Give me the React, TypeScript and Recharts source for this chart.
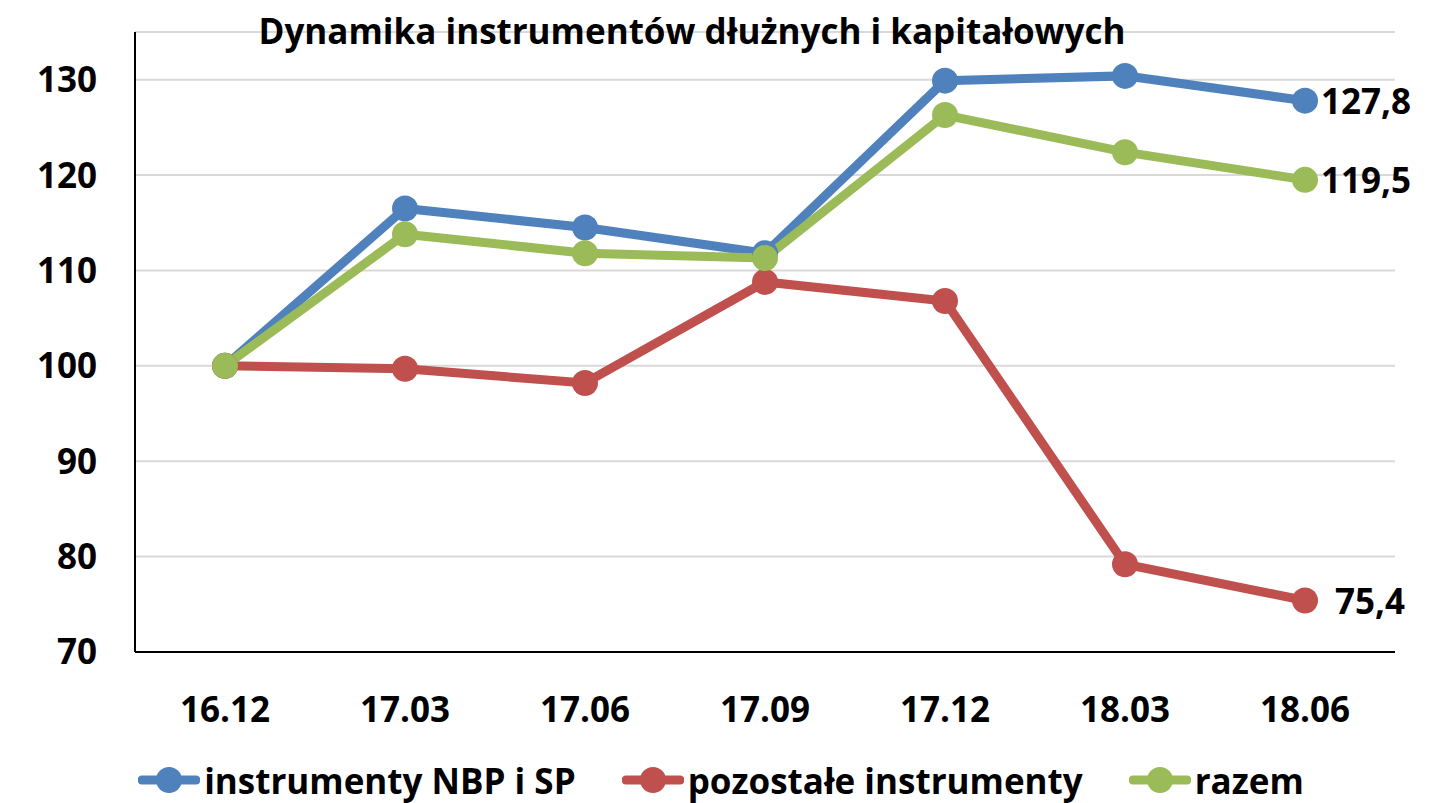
import { CartesianGrid, LabelList, Legend, Line, LineChart, XAxis, YAxis } from "recharts";

const periods = ["16.12", "17.03", "17.06", "17.09", "17.12", "18.03", "18.06"];
const nbpSp = [100, 116.5, 114.5, 111.8, 129.9, 130.4, 127.8];
const pozostale = [100, 99.7, 98.2, 108.8, 106.8, 79.2, 75.4];
const razem = [100, 113.8, 111.8, 111.3, 126.3, 122.4, 119.5];
const yTicks = [70, 80, 90, 100, 110, 120, 130];

const series = [
  { key: "nbpSp", name: "instrumenty NBP i SP", color: "#4F81BD", labelGap: 16 },
  { key: "pozostale", name: "pozostałe instrumenty", color: "#C0504D", labelGap: 30 },
  { key: "razem", name: "razem", color: "#9BBB59", labelGap: 16 },
];

const data = periods.map((p, i) => ({
  period: p,
  nbpSp: nbpSp[i],
  pozostale: pozostale[i],
  razem: razem[i],
}));

const FONT = "'Open Sans', sans-serif";
const tickStyle = { fontFamily: FONT, fontSize: 35, fontWeight: 700, fill: "#000" };

function LegendContent() {
  return (
    <div
      style={{
        display: "flex",
        justifyContent: "center",
        alignItems: "center",
        gap: 46,
        height: 46,
        fontFamily: FONT,
        fontSize: 35,
        fontWeight: 700,
        color: "#000",
      }}
    >
      {series.map((s) => (
        <div key={s.key} style={{ display: "flex", alignItems: "center" }}>
          <svg width={62} height={30} style={{ marginRight: 4 }}>
            <line x1={4} y1={15} x2={58} y2={15} stroke={s.color} strokeWidth={9} strokeLinecap="round" />
            <circle cx={31} cy={15} r={13} fill={s.color} />
          </svg>
          <span>{s.name}</span>
        </div>
      ))}
    </div>
  );
}

export default function App() {
  return (
    <div style={{ position: "absolute", left: 0, top: 0, background: "#fff" }}>
      <LineChart width={1436} height={803} data={data} margin={{ top: 32, right: 41, left: 0, bottom: 0 }}>
        <CartesianGrid vertical={false} stroke="#d9d9d9" strokeWidth={2} />
        <XAxis
          dataKey="period"
          padding={{ left: 90, right: 90 }}
          tickLine={false}
          tickSize={0}
          tickMargin={45}
          height={105}
          axisLine={{ stroke: "#000", strokeWidth: 2 }}
          tick={tickStyle}
        />
        <YAxis
          domain={[70, 135]}
          ticks={yTicks}
          width={135}
          tickLine={false}
          tickSize={0}
          tickMargin={38}
          axisLine={{ stroke: "#000", strokeWidth: 2 }}
          tick={tickStyle}
        />
        <Legend
          verticalAlign="bottom"
          wrapperStyle={{ left: 3, width: 1436 }}
          content={() => <LegendContent />}
        />
        {series.map((s) => (
          <Line
            key={s.key}
            dataKey={s.key}
            name={s.name}
            stroke={s.color}
            strokeWidth={9}
            dot={{ r: 13, fill: s.color, stroke: s.color, strokeWidth: 0 }}
            activeDot={false}
            isAnimationActive={false}
          >
            <LabelList
              dataKey={s.key}
              content={(props: any) => {
                if (props.index !== periods.length - 1) return null;
                return (
                  <text
                    x={props.x + s.labelGap}
                    y={props.y}
                    dominantBaseline="central"
                    style={{ fontFamily: FONT, fontSize: 35, fontWeight: 700, fill: "#000" }}
                  >
                    {String(props.value).replace(".", ",")}
                  </text>
                );
              }}
            />
          </Line>
        ))}
        <text
          x={692}
          y={44}
          textAnchor="middle"
          style={{ fontFamily: FONT, fontSize: 35, fontWeight: 700, fill: "#000" }}
        >
          Dynamika instrumentów dłużnych i kapitałowych
        </text>
      </LineChart>
    </div>
  );
}
